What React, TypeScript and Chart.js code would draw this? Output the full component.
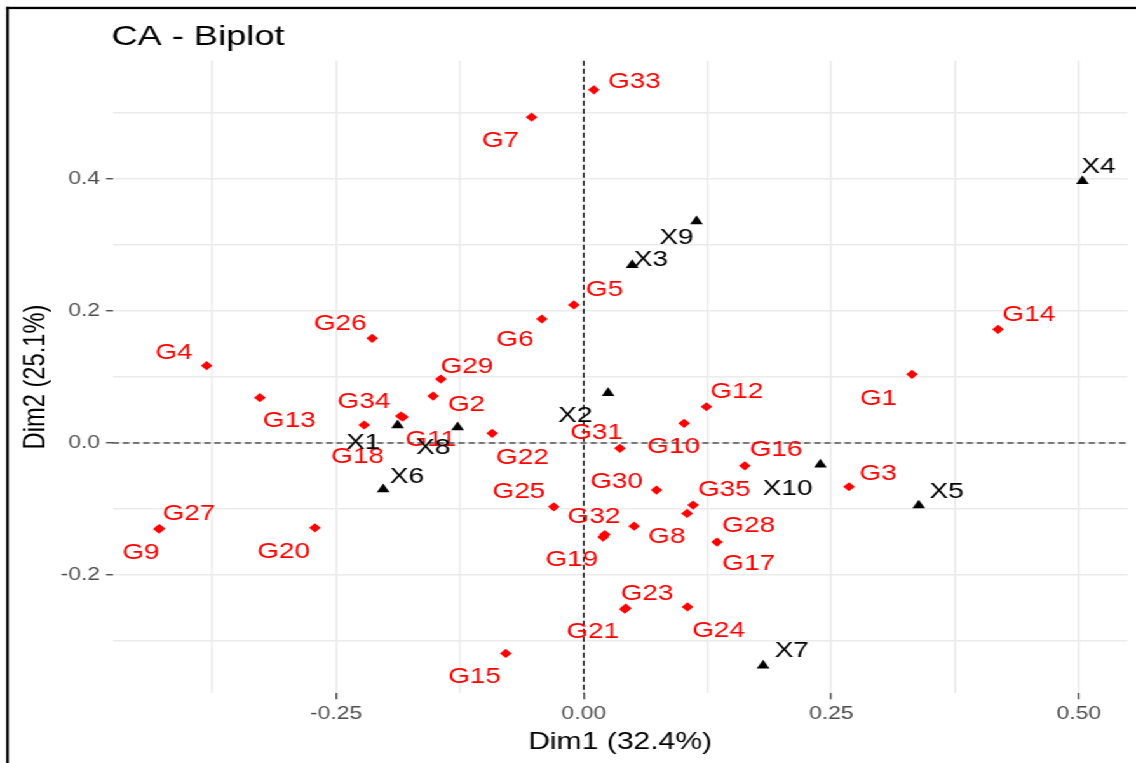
import React, { useEffect, useRef } from 'react';
import { Chart, registerables } from 'chart.js';

Chart.register(...registerables);

// ---------- data ----------
const rowNames = ['G1', 'G2', 'G3', 'G4', 'G5', 'G6', 'G7', 'G8', 'G9', 'G10', 'G11', 'G12', 'G13', 'G14', 'G15', 'G16', 'G17', 'G18', 'G19', 'G20', 'G21', 'G22', 'G23', 'G24', 'G25', 'G26', 'G27', 'G28', 'G29', 'G30', 'G31', 'G32', 'G33', 'G34', 'G35'];
const rowDim1 = [0.3316, -0.1521, 0.268, -0.3809, -0.01, -0.0423, -0.0527, 0.0509, -0.4291, 0.1014, -0.1827, 0.124, -0.3271, 0.4185, -0.0787, 0.1627, 0.1347, -0.2218, 0.0196, -0.2715, 0.0415, -0.0925, 0.0425, 0.1048, -0.0302, -0.2137, -0.4286, 0.1044, -0.1443, 0.0735, 0.0365, 0.0213, 0.0102, -0.1847, 0.1105];
const rowDim2 = [0.1041, 0.0711, -0.0664, 0.1171, 0.2092, 0.1879, 0.4939, -0.1261, -0.1306, 0.0297, 0.0393, 0.0549, 0.0686, 0.1723, -0.3191, -0.0346, -0.1503, 0.0272, -0.1427, -0.1286, -0.252, 0.0146, -0.2504, -0.2485, -0.0968, 0.1587, -0.1298, -0.1068, 0.0969, -0.0714, -0.0082, -0.1389, 0.5353, 0.0408, -0.0942];

const colNames = ['X1', 'X2', 'X3', 'X4', 'X5', 'X6', 'X7', 'X8', 'X9', 'X10'];
const colDim1 = [-0.188, 0.0246, 0.0489, 0.5037, 0.3384, -0.2026, 0.1812, -0.1274, 0.1139, 0.2391];
const colDim2 = [0.0267, 0.0757, 0.2698, 0.3968, -0.0947, -0.0704, -0.3374, 0.0236, 0.3361, -0.0329];

const xMajorTicks = [-0.25, 0, 0.25, 0.5];
const xTickLabels = ['-0.25', '0.00', '0.25', '0.50'];
const xMinorTicks = [-0.375, -0.125, 0.125, 0.375];
const yMajorTicks = [-0.2, 0, 0.2, 0.4];
const yTickLabels = ['-0.2', '0.0', '0.2', '0.4'];
const yMinorTicks = [-0.3, -0.1, 0.1, 0.3, 0.5];
const xLimits = [-0.4758, 0.5495];
const yLimits = [-0.3795, 0.5795];

const titleText = 'CA - Biplot';
const xTitle = 'Dim1 (32.4%)';
const yTitle = 'Dim2 (25.1%)';

// ---------- label layout (repelled text offsets from each point, in reference pixels) ----------
const rowLabelOffsets: [number, number][] = [
  [-33.5, 22.4], [33.4, 7.3], [29, -15], [-32.7, -14.7], [30.7, -17], [-27, 19.5], [-31, 22], [32.7, 9], [-18, 22], [-10.5, 22],
  [28, 21.3], [30.3, -16.7], [29.3, 21.6], [30.7, -16], [-31.3, 21.4], [31.3, -17.4], [31.5, 20.5], [-6.6, 30], [-31.3, 21.3], [-31.3, 22.3],
  [-32, 21.3], [30.2, 23.2], [21.3, -16.3], [31.1, 22], [-35, -16.7], [-32, -16], [29.5, -16.5], [61.5, 10.7], [26, -14], [-40, -10],
  [-23.3, -16.8], [-11, -19.5], [40.5, -9.5], [-37, -16], [31.2, -16.7],
];
const colLabelOffsets: [number, number][] = [
  [-34.4, 16], [-32.8, 21.3], [18.7, -7], [16.1, -16.2], [28, -15.3], [23.7, -14], [28.7, -16.5], [-24.4, 19], [-20, 15], [-32.7, 22.5],
];

// ---------- layout / style ----------
const W = 894;
const H = 763;
const STRETCH = 1136 / W;
const FONT = '"Liberation Sans", Arial, Helvetica, sans-serif';
const LABEL_SIZE = 22;

const isIn = (arr: number[], v: number) => arr.some((m) => Math.abs(m - v) < 1e-9);
const labelFor = (majors: number[], labels: string[], v: number) => {
  const i = majors.findIndex((m) => Math.abs(m - v) < 1e-9);
  return i >= 0 ? labels[i] : '';
};

const decorPlugin = {
  id: 'decor',
  beforeDraw(chart: any) {
    const ctx = chart.ctx;
    ctx.save();
    ctx.fillStyle = '#ffffff';
    ctx.fillRect(0, 0, W, H);
    ctx.fillStyle = '#000000';
    ctx.fillRect(6.2 / STRETCH, 6.8, 2.5 / STRETCH, H);
    ctx.fillRect(6.2 / STRETCH, 6.8, W, 2.3);
    ctx.font = `28.5px ${FONT}`;
    ctx.textAlign = 'left';
    ctx.textBaseline = 'alphabetic';
    ctx.fillStyle = '#000000';
    ctx.fillText(titleText, chart.chartArea.left - 1, 44.5);
    ctx.restore();
  },
  beforeDatasetsDraw(chart: any) {
    const ctx = chart.ctx;
    const { left, right, top, bottom } = chart.chartArea;
    const x0 = chart.scales.x.getPixelForValue(0);
    const y0 = chart.scales.y.getPixelForValue(0);
    ctx.save();
    ctx.strokeStyle = '#000000';
    ctx.lineWidth = 1.1;
    ctx.setLineDash([5, 3]);
    ctx.beginPath();
    ctx.moveTo(left, y0);
    ctx.lineTo(right, y0);
    ctx.stroke();
    ctx.beginPath();
    ctx.moveTo(x0, top);
    ctx.lineTo(x0, bottom);
    ctx.stroke();
    ctx.restore();
  },
  afterDatasetDraw(chart: any, args: any) {
    const idx = args.index;
    const names = idx === 0 ? rowNames : colNames;
    const offs = idx === 0 ? rowLabelOffsets : colLabelOffsets;
    const color = idx === 0 ? '#ff0000' : '#000000';
    const meta = chart.getDatasetMeta(idx);
    const ctx = chart.ctx;
    ctx.save();
    ctx.font = `${LABEL_SIZE}px ${FONT}`;
    ctx.textAlign = 'center';
    ctx.textBaseline = 'alphabetic';
    ctx.fillStyle = color;
    meta.data.forEach((el: any, i: number) => {
      const [dx, dy] = offs[i];
      ctx.fillText(names[i], el.x + dx / STRETCH, el.y + dy + 0.358 * LABEL_SIZE);
    });
    ctx.restore();
  },
};

export default function App() {
  const ref = useRef<HTMLCanvasElement>(null);

  useEffect(() => {
    const canvas = ref.current;
    if (!canvas) return;
    const tickColor = (majors: number[]) => (c: any) =>
      c.tick && isIn(majors, c.tick.value) ? '#333333' : 'rgba(0,0,0,0)';

    const chart = new Chart(canvas, {
      type: 'scatter',
      data: {
        datasets: [
          {
            label: 'Rows',
            data: rowDim1.map((x, i) => ({ x, y: rowDim2[i] })),
            pointStyle: 'rectRot',
            pointRadius: 4.6,
            pointHoverRadius: 4.6,
            pointBackgroundColor: '#ff0000',
            pointBorderWidth: 0,
            order: 2,
          },
          {
            label: 'Columns',
            data: colDim1.map((x, i) => ({ x, y: colDim2[i] })),
            pointStyle: 'triangle',
            pointRadius: 5.8,
            pointHoverRadius: 5.8,
            pointBackgroundColor: '#000000',
            pointBorderWidth: 0,
            order: 1,
          },
        ],
      },
      options: {
        responsive: false,
        animation: false,
        devicePixelRatio: 1,
        events: [],
        layout: { padding: { top: 60.7, right: 6.5, bottom: 0, left: 0 } },
        plugins: { legend: { display: false }, tooltip: { enabled: false }, title: { display: false } },
        scales: {
          x: {
            type: 'linear',
            position: 'bottom',
            min: xLimits[0],
            max: xLimits[1],
            afterBuildTicks: (s: any) => {
              s.ticks = [...xMinorTicks, ...xMajorTicks].sort((a, b) => a - b).map((v) => ({ value: v }));
            },
            afterFit: (s: any) => {
              s.height = H - 693.3;
            },
            ticks: {
              autoSkip: false,
              maxRotation: 0,
              minRotation: 0,
              padding: 4,
              color: '#4d4d4d',
              font: { family: FONT, size: 18 },
              callback: (v: any) => labelFor(xMajorTicks, xTickLabels, Number(v)),
            },
            grid: {
              color: '#ebebeb',
              lineWidth: 1.5,
              tickLength: 6,
              tickWidth: 1.2,
              tickColor: tickColor(xMajorTicks),
            },
            border: { display: false },
            title: {
              display: true,
              text: xTitle,
              color: '#000000',
              font: { family: FONT, size: 23.7 },
              padding: { top: 0, bottom: 6.8 },
            },
          },
          y: {
            type: 'linear',
            position: 'left',
            min: yLimits[0],
            max: yLimits[1],
            afterBuildTicks: (s: any) => {
              s.ticks = [...yMinorTicks, ...yMajorTicks].sort((a, b) => a - b).map((v) => ({ value: v }));
            },
            afterFit: (s: any) => {
              s.width = 88.7;
            },
            ticks: {
              autoSkip: false,
              padding: 4.8,
              color: '#4d4d4d',
              font: { family: FONT, size: 18 },
              callback: (v: any) => labelFor(yMajorTicks, yTickLabels, Number(v)),
            },
            grid: {
              color: '#ebebeb',
              lineWidth: 1.5,
              tickLength: 5.2,
              tickWidth: 1.2,
              tickColor: tickColor(yMajorTicks),
            },
            border: { display: false },
            title: {
              display: true,
              text: yTitle,
              color: '#000000',
              font: { family: FONT, size: 23.7 },
              padding: { top: 14.1, bottom: 0 },
            },
          },
        },
      },
      plugins: [decorPlugin],
    } as any);

    return () => chart.destroy();
  }, []);

  return (
    <div
      style={{
        position: 'fixed',
        left: 0,
        top: 0,
        width: W,
        height: H,
        transform: `scaleX(${STRETCH})`,
        transformOrigin: '0 0',
        background: '#ffffff',
      }}
    >
      <canvas ref={ref} width={W} height={H} style={{ display: 'block' }} />
    </div>
  );
}
